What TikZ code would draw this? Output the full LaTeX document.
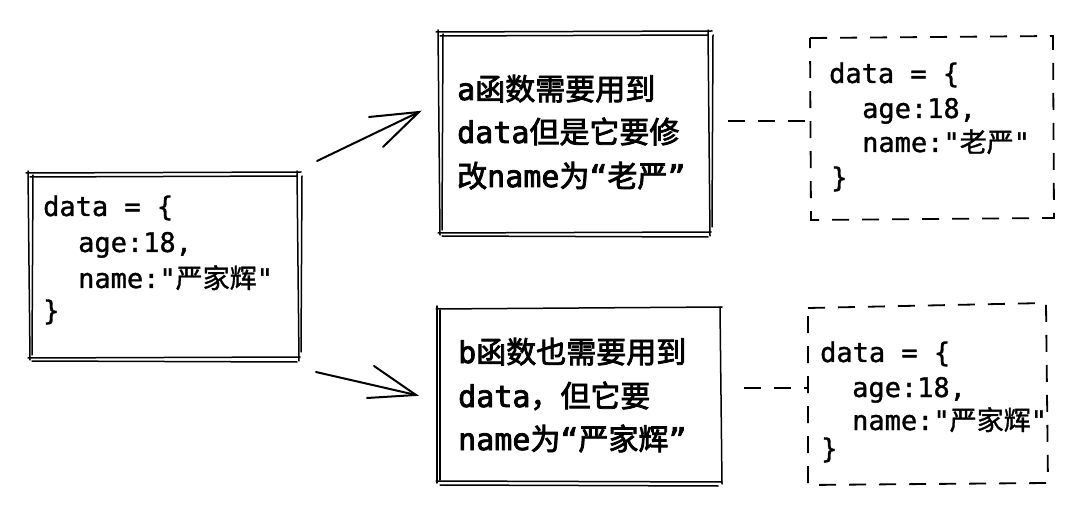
\documentclass[tikz,border=0pt]{standalone}
\usepackage{fontspec}
\setmonofont{DejaVu Sans Mono}
\newfontfamily\codefont[FakeBold=1.2]{DejaVu Sans Mono}
\newfontfamily\zhcode[FakeBold=1.2]{Noto Sans CJK SC}
\newfontfamily\sayfont[FakeBold=2.6]{DejaVu Sans Mono}
\newfontfamily\zhsay[FakeBold=2.6]{Noto Sans CJK SC}
\newcommand\zc[1]{{\zhcode #1}}
\newcommand\zs[1]{{\zhsay #1}}
\newcommand\sketchbox[4]{%
  \draw[rough] ({#1-2},{#2}) -- ({#3+2},{#2-1});
  \draw[rough] ({#1+2},{#2+4}) -- ({#3-2},{#2+3});
  \draw[rough] ({#1},{#2-2}) -- ({#1+2},{#4+2});
  \draw[rough] ({#1+5},{#2+2}) -- ({#1+4},{#4-3});
  \draw[rough] ({#3-2},{#2-2}) -- ({#3},{#4+3});
  \draw[rough] ({#3+3},{#2+3}) -- ({#3+2},{#4-6});
  \draw[rough] ({#1},{#4}) -- ({#3+1},{#4-1});
  \draw[rough] ({#1+4},{#4+3}) -- ({#3-2},{#4+4});
}
\tikzset{
  rough/.style={line width=1.5pt, line cap=round},
  pen/.style={line width=2pt, line cap=round},
  dashbox/.style={line width=1.8pt, dash pattern=on 17pt off 13pt},
  code/.style={anchor=base west, inner sep=0pt, font=\codefont\fontsize{27}{27}\selectfont},
  say/.style={anchor=base west, inner sep=0pt, font=\sayfont\fontsize{30}{30}\selectfont},
}
\begin{document}
\begin{tikzpicture}[x=1pt,y=-1pt]
\useasboundingbox (0,0) rectangle (1080,513);
\fill[white] (0,0) rectangle (1080,513);

% left box
\sketchbox{28}{173}{299}{358}
\node[code] (l1) at (43,216) {data = \{};
\node[code] (l2) at (78,252) {age:18,};
\node[code] (l3) at (78,288) {name:"\zc{严家辉}"};
\node[code] (l4) at (43,320) {\}};

% box a
\sketchbox{438}{32}{710}{233}
\node[say] (a1) at (457,100) {a\zs{函数需要用到}};
\node[say] (a2) at (457,143) {data\zs{但是它要修}};
\node[say] (a3) at (457,187) {\zs{改}name\zs{为}“\zs{老严}”};

% box b
\draw[rough] (436,309) -- (722,307);
\draw[rough] (437,306) -- (437,483);
\draw[rough] (440,310) -- (440,480);
\draw[rough] (720,307) -- (722,484);
\draw[rough] (436,481) -- (722,482);
\draw[rough] (440,485) -- (718,486);
\node[say] (b1) at (458,363) {b\zs{函数也需要用到}};
\node[say] (b2) at (458,407) {data\zs{，但它要}};
\node[say] (b3) at (458,450) {name\zs{为}“\zs{严家辉}”};

% dashed box top right
\draw[dashbox] (810,38) -- (1053,36) -- (1054,218) -- (811,220) -- cycle;
\node[code] (r1) at (829,83) {data = \{};
\node[code] (r2) at (862,118) {age:18,};
\node[code] (r3) at (862,152) {name:"\zc{老严}"};
\node[code] (r4) at (831,187) {\}};

% dashed box bottom right
\draw[dashbox] (808,308) -- (1046,303) -- (1048,483) -- (808,485) -- cycle;
\node[code] (s1) at (820,362) {data = \{};
\node[code] (s2) at (852,397) {age:18,};
\node[code] (s3) at (852,430) {name:"\zc{严家辉}"};
\node[code] (s4) at (821,458) {\}};

% arrows
\coordinate (u0) at (317,161);
\coordinate (u1) at (419,112);
\coordinate (u2) at (369,117);
\coordinate (u3) at (383,147);
\draw[pen] (u0) -- (u1);
\draw[pen] (u2) -- (u1) -- (u3);
\coordinate (d0) at (316,372);
\coordinate (d1) at (416,395);
\coordinate (d2) at (374,366);
\coordinate (d3) at (367,398);
\draw[pen] (d0) -- (d1);
\draw[pen] (d2) -- (d1) -- (d3);

% dashed connectors
\coordinate (ae) at (728,121);
\coordinate (rw) at (810,121);
\draw[dashbox] (ae) -- (rw);
\coordinate (be) at (744,388);
\coordinate (sw) at (808,388);
\draw[dashbox] (be) -- (sw);
\end{tikzpicture}
\end{document}
